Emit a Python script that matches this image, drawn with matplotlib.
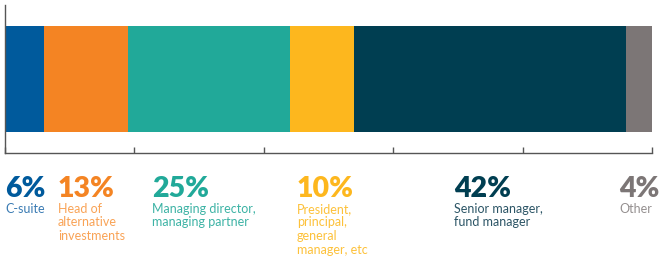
import matplotlib.pyplot as plt
from matplotlib.transforms import blended_transform_factory

categories = ['C-suite', 'Head of\nalternative\ninvestments',
              'Managing director,\nmanaging partner',
              'President,\nprincipal,\ngeneral\nmanager, etc',
              'Senior manager,\nfund manager', 'Other']
shares = [6, 13, 25, 10, 42, 4]
bar_colors = ['#005A9C', '#F48423', '#21A999', '#FDB71E', '#003E51', '#7C7676']
text_colors = ['#3A7BB3', '#F9A356', '#3DB3A5', '#FDC13A', '#2C5566', '#959090']
label_x = [0, 8.2, 22.7, 45.1, 69.4, 94.9]

plt.rcParams['font.family'] = ['Lato', 'DejaVu Sans']

fig = plt.figure(figsize=(6.6, 2.59), dpi=100)
ax = fig.add_axes([5 / 660, 1 - 153 / 259, 647 / 660, 148 / 259])

left = 0
for val, col in zip(shares, bar_colors):
    ax.barh(0.5, val, left=left, height=0.716, color=col, linewidth=0)
    left += val

ax.set_xlim(0, 100)
ax.set_ylim(0, 1)
ax.set_xticks([0, 20, 40, 60, 80, 100])
ax.set_xticklabels([])
ax.set_yticks([])
ax.tick_params(axis='x', direction='in', length=4, width=1, color='#555555')
for s in ['top', 'right']:
    ax.spines[s].set_visible(False)
for s in ['left', 'bottom']:
    ax.spines[s].set_color('#555555')
    ax.spines[s].set_linewidth(1)

trans = blended_transform_factory(ax.transData, fig.transFigure)
for x, val, cat, c1, c2 in zip(label_x, shares, categories, bar_colors, text_colors):
    ax.text(x, 1 - 197 / 259, f'{val}%', transform=trans, ha='left', va='baseline',
            fontsize=20.5, fontweight='heavy', color=c1, clip_on=False)
    ax.text(x, 1 - 203 / 259, cat, transform=trans, ha='left', va='top',
            fontsize=9, color=c2, linespacing=1.15, clip_on=False)

fig.savefig('out.png', dpi=100)
